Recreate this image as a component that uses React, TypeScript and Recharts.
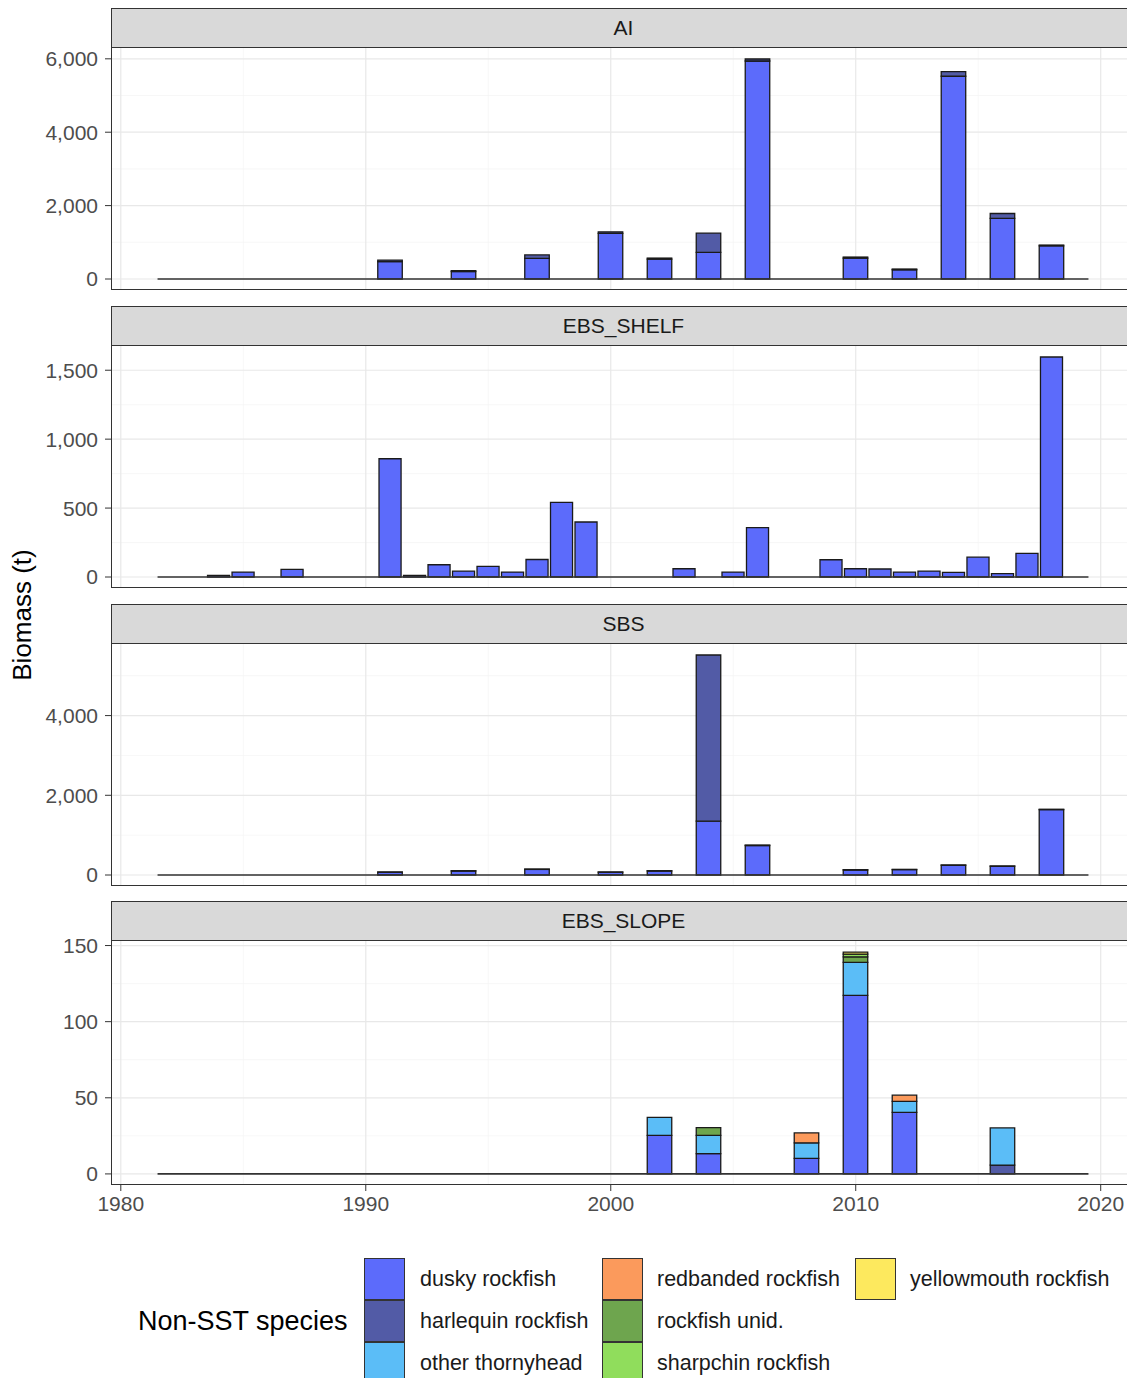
import React from "react";
import {
  BarChart,
  Bar,
  XAxis,
  YAxis,
  CartesianGrid,
  ReferenceLine,
} from "recharts";

// survey years and biomass (t) by region
const aiYears = [1991, 1994, 1997, 2000, 2002, 2004, 2006, 2010, 2012, 2014, 2016, 2018];
const aiDusky = [475, 205, 560, 1245, 540, 725, 5940, 568, 252, 5525, 1650, 905];
const aiHarlequin = [40, 22, 95, 40, 30, 525, 55, 30, 20, 125, 135, 20];

const shelfYears = [
  1984, 1985, 1987, 1991, 1992, 1993, 1994, 1995, 1996, 1997, 1998, 1999, 2003,
  2005, 2006, 2009, 2010, 2011, 2012, 2013, 2014, 2015, 2016, 2017, 2018,
];
const shelfDusky = [
  12, 36, 55, 858, 12, 89, 43, 77, 36, 127, 541, 399, 60, 36, 358, 125, 60, 58,
  36, 43, 34, 144, 24, 171, 1596,
];

const sbsYears = [1991, 1994, 1997, 2000, 2002, 2004, 2006, 2010, 2012, 2014, 2016, 2018];
const sbsDusky = [70, 100, 140, 70, 100, 1350, 740, 125, 135, 245, 220, 1640];
const sbsHarlequin = [5, 8, 10, 5, 8, 4170, 10, 8, 7, 5, 5, 10];

const slopeYears = [2002, 2004, 2008, 2010, 2012, 2016];
const slopeDusky = [25.3, 13.3, 10.2, 117.3, 40.4, 0];
const slopeHarlequin = [0, 0, 0, 0, 0, 5.8];
const slopeThornyhead = [11.8, 12, 10.2, 21.6, 7.3, 24.4];
const slopeRedbanded = [0, 0, 6.5, 0, 4, 0];
const slopeUnid = [0, 5.1, 0, 3.7, 0, 0];
const slopeSharpchin = [0, 0, 0, 1.8, 0, 0];
const slopeYellowmouth = [0, 0, 0, 1.3, 0, 0];

const species = [
  { key: "dusky", label: "dusky rockfish", color: "#5c6bfb" },
  { key: "harlequin", label: "harlequin rockfish", color: "#525ba6" },
  { key: "thornyhead", label: "other thornyhead", color: "#5bbdf7" },
  { key: "redbanded", label: "redbanded rockfish", color: "#fb9a5c" },
  { key: "unid", label: "rockfish unid.", color: "#6ea54e" },
  { key: "sharpchin", label: "sharpchin rockfish", color: "#90dd5c" },
  { key: "yellowmouth", label: "yellowmouth rockfish", color: "#fde95e" },
];

const surveySpan = [1982, 2019];
const xTicks = [1980, 1990, 2000, 2010, 2020];
const xMinor = [1985, 1995, 2005, 2015];

const toRows = (years: number[], series: Record<string, number[]>) =>
  years.map((year, i) => {
    const row: any = { year };
    Object.keys(series).forEach((k) => {
      if (series[k][i] > 0) row[k] = series[k][i];
    });
    return row;
  });

const aiRows = toRows(aiYears, { dusky: aiDusky, harlequin: aiHarlequin });
const shelfRows = toRows(shelfYears, { dusky: shelfDusky });
const sbsRows = toRows(sbsYears, { dusky: sbsDusky, harlequin: sbsHarlequin });
const slopeRows = toRows(slopeYears, {
  dusky: slopeDusky,
  harlequin: slopeHarlequin,
  thornyhead: slopeThornyhead,
  redbanded: slopeRedbanded,
  unid: slopeUnid,
  sharpchin: slopeSharpchin,
  yellowmouth: slopeYellowmouth,
});

const X_DOMAIN: [number, number] = [1979.6, 2021.4];
const CHART_W = 1127;
const AXIS_W = 103;
const PLOT_W = CHART_W - AXIS_W;
const BAR_W = PLOT_W / (X_DOMAIN[1] - X_DOMAIN[0]);
const STRIP_H = 40;
const PAD_TOP = 14;
const FONT = '"Liberation Sans", Arial, Helvetica, sans-serif';

const fmt = (v: number) => v.toLocaleString("en-US");

function Panel({
  top,
  label,
  rows,
  yTicks,
  yMinor,
  plotH,
  showX,
}: {
  top: number;
  label: string;
  rows: any[];
  yTicks: number[];
  yMinor: number[];
  plotH: number;
  showX?: boolean;
}) {
  const max = Math.max(
    ...rows.map((r) =>
      species.reduce((s, sp) => s + (r[sp.key] ?? 0), 0)
    )
  );
  const yDomain = [-0.05 * max, 1.05 * max];
  const xAxisH = showX ? 42 : 0;
  return (
    <>
      <div style={{ position: "absolute", left: 0, top: top + STRIP_H - PAD_TOP }}>
        <BarChart
          width={CHART_W}
          height={plotH + xAxisH + PAD_TOP}
          data={rows}
          margin={{ top: PAD_TOP, right: 0, bottom: 0, left: 0 }}
        >
          <CartesianGrid
            stroke="#f3f3f3"
            strokeWidth={0.7}
            verticalValues={xMinor}
            horizontalValues={yMinor}
          />
          <CartesianGrid
            stroke="#e8e8e8"
            strokeWidth={1.2}
            verticalValues={xTicks}
            horizontalValues={yTicks}
          />
          <XAxis
            type="number"
            dataKey="year"
            domain={X_DOMAIN}
            ticks={xTicks}
            interval={0}
            hide={!showX}
            height={xAxisH}
            axisLine={false}
            tickSize={6}
            tickMargin={5}
            tickLine={{ stroke: "#333" }}
            tick={{ fontSize: 21, fill: "#4d4d4d" }}
            allowDataOverflow
          />
          <YAxis
            type="number"
            domain={yDomain}
            ticks={yTicks}
            interval={0}
            width={AXIS_W}
            axisLine={false}
            tickSize={6}
            tickMargin={7}
            tickLine={{ stroke: "#333" }}
            tick={{ fontSize: 21, fill: "#4d4d4d" }}
            tickFormatter={fmt}
            allowDataOverflow
          />
          {species.map((sp) => (
            <Bar
              key={sp.key}
              dataKey={sp.key}
              stackId="a"
              fill={sp.color}
              stroke="#1a1a1a"
              strokeWidth={1.3}
              barSize={BAR_W}
              isAnimationActive={false}
            />
          ))}
          <ReferenceLine
            segment={[
              { x: surveySpan[0] - 0.5, y: 0 },
              { x: surveySpan[1] + 0.5, y: 0 },
            ]}
            stroke="#333"
            strokeWidth={1.6}
          />
        </BarChart>
      </div>
      <div
        style={{
          position: "absolute",
          left: AXIS_W,
          top,
          width: PLOT_W,
          height: STRIP_H,
          background: "#d9d9d9",
          border: "1px solid #333",
          borderRight: "none",
          boxSizing: "border-box",
          display: "flex",
          alignItems: "center",
          justifyContent: "center",
          fontSize: 21,
          color: "#1a1a1a",
        }}
      >
        {label}
      </div>
      <div
        style={{
          position: "absolute",
          left: AXIS_W,
          top: top + STRIP_H - 1,
          width: PLOT_W,
          height: plotH + 1,
          border: "1px solid #333",
          borderRight: "none",
          boxSizing: "border-box",
          pointerEvents: "none",
        }}
      />
    </>
  );
}

function Legend() {
  const cols = [
    { keyLeft: 356, textLeft: 412, items: species.slice(0, 3) },
    { keyLeft: 594, textLeft: 649, items: species.slice(3, 6) },
    { keyLeft: 847, textLeft: 902, items: species.slice(6) },
  ];
  const top0 = 1250;
  const rowH = 42;
  return (
    <>
      <div
        style={{
          position: "absolute",
          left: 130,
          top: top0 + rowH * 1.5 - 17,
          height: 34,
          lineHeight: "34px",
          fontSize: 27,
          color: "#000",
          whiteSpace: "nowrap",
        }}
      >
        Non-SST species
      </div>
      {cols.map((c) =>
        c.items.map((sp, i) => (
          <React.Fragment key={sp.key}>
            <div
              style={{
                position: "absolute",
                left: c.keyLeft,
                top: top0 + i * rowH,
                width: 41,
                height: rowH,
                background: sp.color,
                border: "1.5px solid #333",
                boxSizing: "border-box",
              }}
            />
            <div
              style={{
                position: "absolute",
                left: c.textLeft,
                top: top0 + i * rowH + rowH / 2 - 14,
                height: 28,
                lineHeight: "28px",
                fontSize: 21.5,
                color: "#1a1a1a",
                whiteSpace: "nowrap",
              }}
            >
              {sp.label}
            </div>
          </React.Fragment>
        ))
      )}
    </>
  );
}

export default function App() {
  return (
    <div
      style={{
        position: "relative",
        width: CHART_W,
        height: 1370,
        fontFamily: FONT,
        background: "#fff",
      }}
    >
      <Panel top={0} label="AI" rows={aiRows} yTicks={[0, 2000, 4000, 6000]} yMinor={[1000, 3000, 5000]} plotH={242} />
      <Panel top={298} label="EBS_SHELF" rows={shelfRows} yTicks={[0, 500, 1000, 1500]} yMinor={[250, 750, 1250]} plotH={242} />
      <Panel top={596} label="SBS" rows={sbsRows} yTicks={[0, 2000, 4000]} yMinor={[1000, 3000, 5000]} plotH={242} />
      <Panel top={893} label="EBS_SLOPE" rows={slopeRows} yTicks={[0, 50, 100, 150]} yMinor={[25, 75, 125]} plotH={244} showX />
      <div
        style={{
          position: "absolute",
          left: 14,
          top: 607,
          transform: "translate(-50%, -50%) rotate(-90deg)",
          fontSize: 26,
          color: "#000",
          whiteSpace: "nowrap",
        }}
      >
        Biomass (t)
      </div>
      <Legend />
    </div>
  );
}
